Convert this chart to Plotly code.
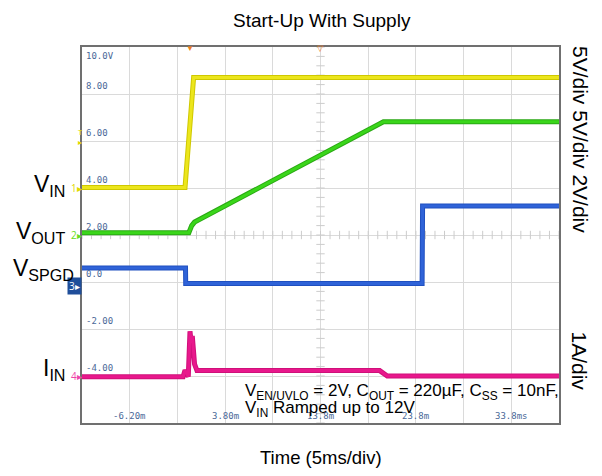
import numpy as np
import plotly.graph_objects as go

# ---- data (time in ms, value in screen units: 2 units per division) ----
vin_t = [-11.2, -0.4, 0.5, 38.8]
vin_v = [4.02, 4.02, 8.70, 8.70]

vout_t = [-11.2, 0.0, 0.3, 0.6, 20.4, 38.8]
vout_v = [2.10, 2.10, 2.40, 2.55, 6.82, 6.82]

vspgd_t = [-11.2, -0.35, -0.33, 24.45, 24.5, 38.8]
vspgd_v = [0.60, 0.60, -0.06, -0.06, 3.23, 3.23]

iin_t = [-11.2, -0.6, -0.4, -0.06, 0.12, 0.25, 0.36, 0.6, 0.85, 20.0, 20.8, 38.8]
iin_v = [-4.03, -4.03, -3.75, -4.03, -2.10, -2.60, -2.30, -3.50, -3.77, -3.77, -4.00, -4.00]

ylabels_v = [10, 8, 6, 4, 2, 0, -2, -4]
ylabels_t = ["10.0V", "8.00", "6.00", "4.00", "2.00", "0.0", "-2.00", "-4.00"]
xlabels_v = [-6.2, 3.8, 13.8, 23.8, 33.8]
xlabels_t = ["-6.20m", "3.80m", "13.8m", "23.8m", "33.8ms"]

X0, X1 = -11.2, 38.8
Y0, Y1 = -6, 10

fig = go.Figure()

# centre-axis minor ticks
mx = np.arange(X0, X1 + 0.01, 1.0)
my = np.arange(Y0, Y1 + 0.01, 0.4)
fig.add_trace(go.Scatter(x=mx, y=[2] * len(mx), mode="markers",
                         marker=dict(symbol="line-ns", size=6, line=dict(color="#cccccc", width=1)),
                         hoverinfo="skip", showlegend=False))
fig.add_trace(go.Scatter(x=[13.8] * len(my), y=my, mode="markers",
                         marker=dict(symbol="line-ew", size=6, line=dict(color="#cccccc", width=1)),
                         hoverinfo="skip", showlegend=False))

def trace(t, v, edge, core):
    fig.add_trace(go.Scatter(x=t, y=v, mode="lines", line=dict(color=edge, width=5),
                             hoverinfo="skip", showlegend=False))
    fig.add_trace(go.Scatter(x=t, y=v, mode="lines", line=dict(color=core, width=3),
                             hoverinfo="skip", showlegend=False))

trace(vin_t, vin_v, "#cfc800", "#ece61c")
trace(vout_t, vout_v, "#2aa814", "#3ad61a")
trace(vspgd_t, vspgd_v, "#2050c0", "#2f63d8")
trace(iin_t, iin_v, "#d0107a", "#e8188c")

ann = []
mono = dict(family="DejaVu Sans Mono", size=9, color="#4a6898")
for v, t in zip(ylabels_v, ylabels_t):
    ann.append(dict(x=X0, y=v, xref="x", yref="y", text=t, showarrow=False,
                    xanchor="left", yanchor="top" if v == 10 else "bottom",
                    xshift=2, yshift=-2 if v == 10 else 1, font=mono))
for v, t in zip(xlabels_v, xlabels_t):
    ann.append(dict(x=v, y=Y0, xref="x", yref="y", text=t, showarrow=False,
                    xanchor="center", yanchor="bottom", yshift=0, font=mono))

# trigger markers
ann.append(dict(x=0.1, y=Y1, xref="x", yref="y", text="▼", showarrow=False,
                yanchor="middle", font=dict(size=8, color="#f08020")))
ann.append(dict(x=13.8, y=Y1, xref="x", yref="y", text="▽", showarrow=False,
                yanchor="middle", font=dict(size=8, color="#f08020")))
ann.append(dict(x=X0, y=6.2, xref="x", yref="y", text="T<br>▸", showarrow=False,
                xanchor="right", xshift=3, font=dict(size=8, color="#e0d800")))

# channel markers
for lab, v, col in [("1▸", 4.0, "#e0d800"), ("2▸", 2.0, "#66dd22"), ("4▸", -4.0, "#ee44aa")]:
    ann.append(dict(x=X0, y=v, xref="x", yref="y", text=lab, showarrow=False,
                    xanchor="right", xshift=2, font=dict(size=10, color=col)))
ann.append(dict(x=X0, y=-0.15, xref="x", yref="y", text="3▸", showarrow=False,
                xanchor="right", xshift=0, bgcolor="#1f4e9a",
                font=dict(size=10, color="white")))

# channel names
big = dict(family="Liberation Sans, Arial", size=23, color="black")
for lab, v, xs in [("V<sub>IN</sub>", 4.0, -15), ("V<sub>OUT</sub>", 2.0, -15),
                   ("V<sub>SPGD</sub>", 0.4, -6), ("I<sub>IN</sub>", -3.85, -15)]:
    ann.append(dict(x=0, y=v, xref="paper", yref="y", text=lab, showarrow=False,
                    xanchor="right", xshift=xs, yshift=3, font=big))

note_font = dict(family="Liberation Sans, Arial", size=17, color="black")
ann.append(dict(x=0.3375, y=0.082, xref="paper", yref="paper",
                text="V<sub>EN/UVLO</sub> = 2V, C<sub>OUT</sub> = 220µF, C<sub>SS</sub> = 10nF,",
                showarrow=False, xanchor="left", yanchor="middle", font=note_font))
ann.append(dict(x=0.3375, y=0.036, xref="paper", yref="paper",
                text="V<sub>IN</sub> Ramped up to 12V",
                showarrow=False, xanchor="left", yanchor="middle", font=note_font))

ann.append(dict(x=0.503, y=1.0718, xref="paper", yref="paper", text="Start-Up With Supply",
                showarrow=False, yanchor="middle",
                font=dict(family="Liberation Sans, Arial", size=19, color="black")))
ann.append(dict(x=0.5, y=-0.093, xref="paper", yref="paper", text="Time (5ms/div)",
                showarrow=False, yanchor="middle",
                font=dict(family="Liberation Sans, Arial", size=18.5, color="black")))
ann.append(dict(x=1.044, y=0.7527, xref="paper", yref="paper", text="5V/div 5V/div 2V/div",
                showarrow=False, textangle=90, xanchor="center", yanchor="middle",
                font=dict(family="Liberation Sans, Arial", size=21, color="black")))
ann.append(dict(x=1.044, y=0.1636, xref="paper", yref="paper", text="1A/div",
                showarrow=False, textangle=90, xanchor="center", yanchor="middle",
                font=dict(family="Liberation Sans, Arial", size=21, color="black")))

# page body has an 8px margin: figure is 16px smaller and shifted accordingly
fig.update_layout(
    width=586, height=460, autosize=False,
    margin=dict(l=74, r=35, t=39, b=45),
    paper_bgcolor="white", plot_bgcolor="white",
    annotations=ann,
    xaxis=dict(range=[X0, X1], tick0=X0, dtick=5, showgrid=True, gridcolor="#dadada",
               gridwidth=1, showticklabels=False, ticks="", zeroline=False,
               showline=True, mirror=True, linecolor="#707070", linewidth=1.5),
    yaxis=dict(range=[Y0, Y1], tick0=Y0, dtick=2, showgrid=True, gridcolor="#dadada",
               gridwidth=1, showticklabels=False, ticks="", zeroline=False,
               showline=True, mirror=True, linecolor="#707070", linewidth=1.5),
)

fig.write_html("out.html")
